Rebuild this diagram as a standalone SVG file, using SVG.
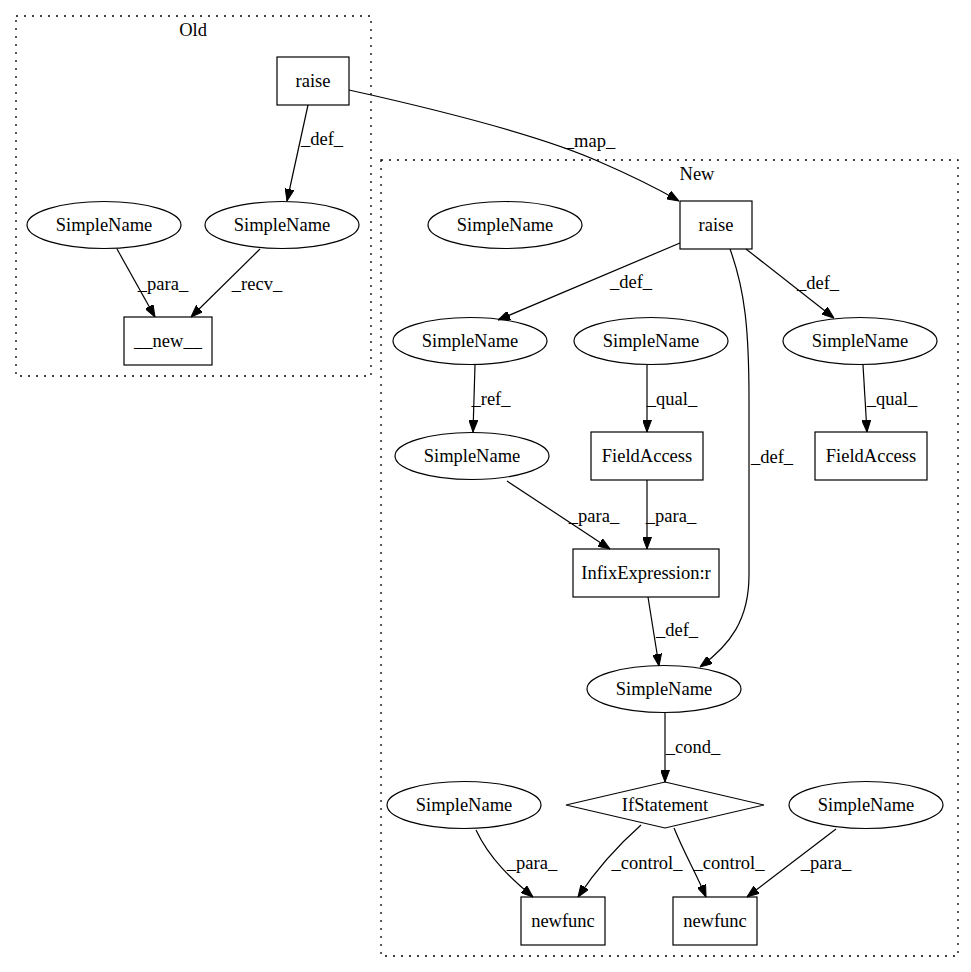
<svg xmlns="http://www.w3.org/2000/svg" width="971" height="972" viewBox="0 0 971 972">
<defs>
<marker id="arr" markerWidth="12" markerHeight="9" refX="12" refY="4.5" orient="auto" markerUnits="userSpaceOnUse">
<path d="M0,0 L12,4.5 L0,9 z" fill="#000" stroke="#000" stroke-width="1"/>
</marker>
<style>
text{font-family:"Liberation Serif","Times New Roman",serif;font-size:18.5px;fill:#000}
.n text,.c text{text-anchor:middle}
.n rect,.n ellipse,.n polygon{fill:#fff;stroke:#000;stroke-width:1.2}
.cl{fill:none;stroke:#000;stroke-width:1.3;stroke-dasharray:2,6}
.e path{fill:none;stroke:#000;stroke-width:1.2;marker-end:url(#arr)}
.e text{text-anchor:middle}
</style>
</defs>
<rect width="971" height="972" fill="#fff"/>
<g id="cluster_old" class="c">
<rect class="cl" x="16" y="16" width="355" height="360"/>
<text x="193" y="36">Old</text>
</g>
<g id="cluster_new" class="c">
<rect class="cl" x="381" y="160" width="577" height="796"/>
<text x="697" y="180">New</text>
</g>
<g id="old_raise" class="n"><rect x="277" y="57" width="72" height="48"/><text x="313" y="87">raise</text></g>
<g id="old_sn1" class="n"><ellipse cx="104" cy="225" rx="77" ry="23.5"/><text x="104" y="231">SimpleName</text></g>
<g id="old_sn2" class="n"><ellipse cx="282" cy="225" rx="77" ry="23.5"/><text x="282" y="231">SimpleName</text></g>
<g id="old_new" class="n"><rect x="124" y="317" width="88" height="48"/><text x="168" y="347">__new__</text></g>

<g id="new_raise" class="n"><rect x="680" y="201" width="72" height="48"/><text x="716" y="231">raise</text></g>
<g id="new_sn_iso" class="n"><ellipse cx="505" cy="225" rx="77" ry="23.5"/><text x="505" y="231">SimpleName</text></g>
<g id="new_snA" class="n"><ellipse cx="470" cy="341" rx="77" ry="23.5"/><text x="470" y="347">SimpleName</text></g>
<g id="new_snB" class="n"><ellipse cx="651" cy="341" rx="77" ry="23.5"/><text x="651" y="347">SimpleName</text></g>
<g id="new_snC" class="n"><ellipse cx="860" cy="341" rx="77" ry="23.5"/><text x="860" y="347">SimpleName</text></g>
<g id="new_snD" class="n"><ellipse cx="472" cy="456" rx="77" ry="23.5"/><text x="472" y="462">SimpleName</text></g>
<g id="new_fa1" class="n"><rect x="591" y="432" width="112" height="48"/><text x="647" y="462">FieldAccess</text></g>
<g id="new_fa2" class="n"><rect x="815" y="432" width="112" height="48"/><text x="871" y="462">FieldAccess</text></g>
<g id="new_infix" class="n"><rect x="573" y="549" width="146" height="48"/><text x="646" y="579">InfixExpression:r</text></g>
<g id="new_snE" class="n"><ellipse cx="664" cy="689" rx="77" ry="23.5"/><text x="664" y="695">SimpleName</text></g>
<g id="new_if" class="n"><polygon points="665,782 764,805 665,828 566,805"/><text x="665" y="811">IfStatement</text></g>
<g id="new_snF" class="n"><ellipse cx="464" cy="805" rx="77" ry="23.5"/><text x="464" y="811">SimpleName</text></g>
<g id="new_snG" class="n"><ellipse cx="866" cy="805" rx="77" ry="23.5"/><text x="866" y="811">SimpleName</text></g>
<g id="new_nf1" class="n"><rect x="521" y="897" width="84" height="48"/><text x="563" y="927">newfunc</text></g>
<g id="new_nf2" class="n"><rect x="673" y="897" width="84" height="48"/><text x="715" y="927">newfunc</text></g>

<g id="edges" class="e">
<path d="M308,105 L287,201"/><text x="322" y="145">_def_</text>
<path d="M117,249 L155,317"/><text x="163" y="290">_para_</text>
<path d="M260,249 L191,317"/><text x="257" y="290">_recv_</text>
<path d="M349,90 C430,108 540,135 600,162 C630,175 660,190 679,201"/><text x="590" y="147">_map_</text>
<path d="M680,243 L498,320"/><text x="631" y="288">_def_</text>
<path d="M746,249 L834,318"/><text x="818" y="289">_def_</text>
<path d="M730,249 C745,290 749,330 749,400 L749,575 C749,620 730,645 700,667"/><text x="772" y="463">_def_</text>
<path d="M475,365 L473,432"/><text x="491" y="405">_ref_</text>
<path d="M647,365 L647,432"/><text x="672" y="405">_qual_</text>
<path d="M863,365 L867,432"/><text x="892" y="405">_qual_</text>
<path d="M507,481 L610,549"/><text x="594" y="522">_para_</text>
<path d="M647,480 L647,549"/><text x="671" y="522">_para_</text>
<path d="M648,597 L659,666"/><text x="677" y="636">_def_</text>
<path d="M665,713 L665,782"/><text x="693" y="753">_cond_</text>
<path d="M476,830 C490,860 513,880 533,897"/><text x="532" y="869">_para_</text>
<path d="M641,825 C615,848 596,870 578,897"/><text x="647" y="869">_control_</text>
<path d="M674,828 C685,855 697,875 706,897"/><text x="729" y="869">_control_</text>
<path d="M836,829 L747,897"/><text x="826" y="869">_para_</text>
</g>
</svg>
